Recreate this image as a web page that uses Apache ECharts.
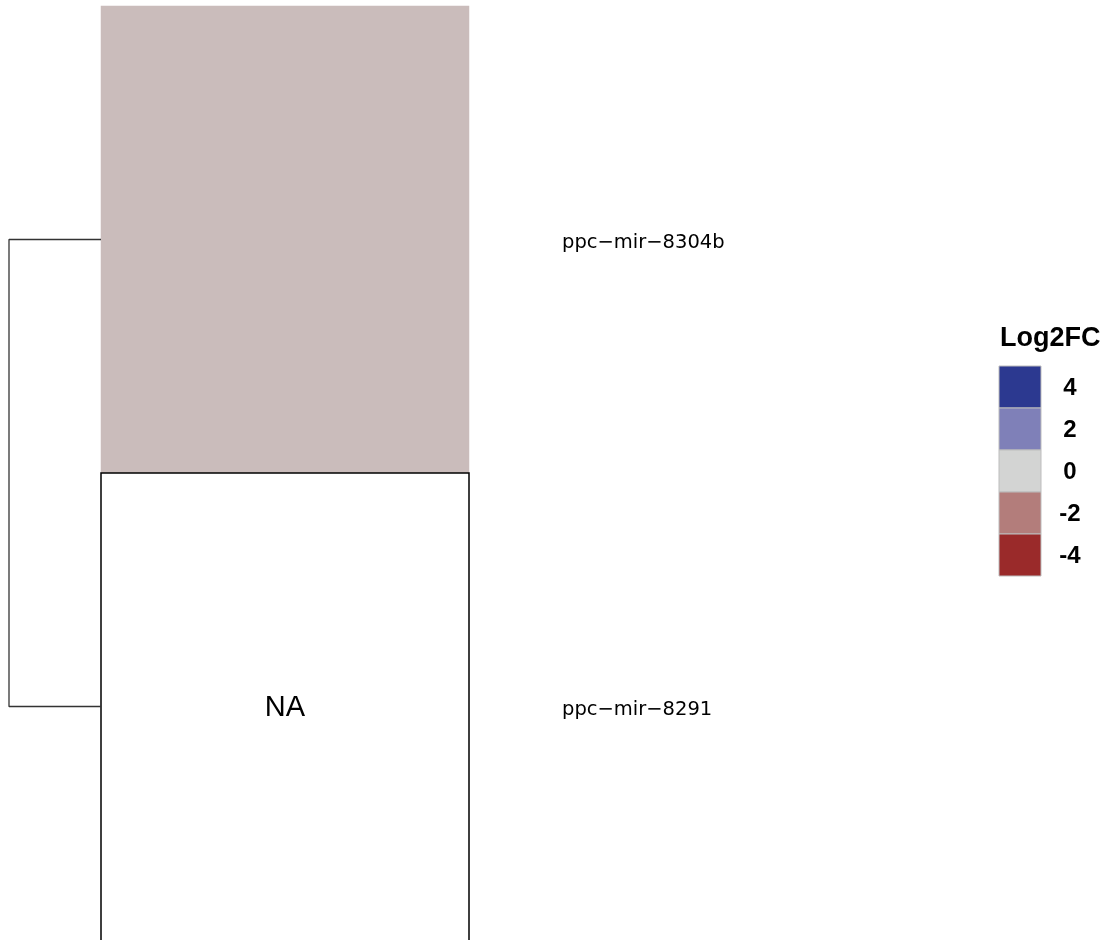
<!DOCTYPE html>
<html>
<head>
<meta charset="utf-8">
<script src="https://cdn.jsdelivr.net/npm/echarts@6/dist/echarts.min.js"></script>
<style>
html,body{margin:0;padding:0;background:#fff;}
#chart{width:1119px;height:940px;}
</style>
</head>
<body>
<div id="chart"></div>
<script>
// ---- data ----
const rowNames = ['ppc\u2212mir\u22128304b', 'ppc\u2212mir\u22128291'];
const colNames = ['Log2FC'];
const log2fc = [-0.55, null];           // null = NA
const dendroMergeHeight = 1;            // height of the single merge
const legendTitle = 'Log2FC';
const legendBreaks = [4, 2, 0, -2, -4];
const legendColors = ['#2C3990', '#7F80B8', '#D3D4D3', '#B37D7B', '#9A2A2A'];

// ---- build ----
const valueData = [];
const naData = [];
rowNames.forEach((r, i) => {
  if (log2fc[i] === null) naData.push([0, i]);
  else valueData.push([0, i, log2fc[i]]);
});

const dendroLine = [
  [0, rowNames[0]],
  [dendroMergeHeight, rowNames[0]],
  [dendroMergeHeight, rowNames[1]],
  [0, rowNames[1]]
];

const boxX = 999, boxW = 42, boxH = 42, boxTop = 366;
const legendGraphics = [{
  type: 'text', left: 1000, top: 325,
  style: { text: legendTitle, font: 'bold 27px "Liberation Sans", Arial, sans-serif', fill: '#000' }
}];
legendBreaks.forEach((b, i) => {
  legendGraphics.push({
    type: 'rect',
    shape: { x: boxX, y: boxTop + i * boxH, width: boxW, height: boxH },
    style: { fill: legendColors[i], stroke: '#BDBDBD', lineWidth: 1 }
  });
  legendGraphics.push({
    type: 'text', x: 1070, y: boxTop + i * boxH + boxH / 2 + 1,
    style: { text: String(b), font: 'bold 24px "Liberation Sans", Arial, sans-serif', fill: '#000',
             align: 'center', verticalAlign: 'middle' }
  });
});

const chart = echarts.init(document.getElementById('chart'), null, { renderer: 'canvas' });
chart.setOption({
  animation: false,
  backgroundColor: '#fff',
  grid: [
    { left: 101, top: 6, width: 368, height: 934 },
    { left: 9, top: 6, width: 92, height: 934 }
  ],
  xAxis: [
    { type: 'category', gridIndex: 0, data: colNames, show: false },
    { type: 'value', gridIndex: 1, min: 0, max: dendroMergeHeight, inverse: true, show: false }
  ],
  yAxis: [
    { type: 'category', gridIndex: 0, data: rowNames, inverse: true, position: 'right',
      axisLine: { show: false }, axisTick: { show: false }, splitLine: { show: false },
      axisLabel: { margin: 93, color: '#000',
                   formatter: function (v) { return '{a|' + v + '}'; },
                   rich: { a: { fontFamily: '"DejaVu Sans", sans-serif', fontSize: 19.5, color: '#000',
                                padding: [6, 0, 0, 0] } } } },
    { type: 'category', gridIndex: 1, data: rowNames, inverse: true, show: false }
  ],
  visualMap: {
    show: false, type: 'continuous', seriesIndex: 0, dimension: 2,
    min: -4, max: 4,
    inRange: { color: legendColors.slice().reverse() }
  },
  series: [
    {
      type: 'heatmap', xAxisIndex: 0, yAxisIndex: 0, data: valueData,
      itemStyle: { borderWidth: 0 }
    },
    {
      type: 'custom', xAxisIndex: 0, yAxisIndex: 0, data: naData,
      renderItem: function (params, api) {
        const c = api.coord([api.value(0), api.value(1)]);
        const s = api.size([1, 1]);
        return {
          type: 'group',
          children: [
            { type: 'rect', shape: { x: c[0] - s[0] / 2, y: c[1] - s[1] / 2, width: s[0], height: s[1] + 4 },
              style: { fill: '#fff', stroke: '#000', lineWidth: 1.5 } },
            { type: 'text', x: c[0], y: c[1] + 1,
              style: { text: 'NA', font: '29px "Liberation Sans", Arial, sans-serif', fill: '#000',
                       align: 'center', verticalAlign: 'middle' } }
          ]
        };
      }
    },
    {
      type: 'line', xAxisIndex: 1, yAxisIndex: 1, data: dendroLine,
      symbol: 'none', lineStyle: { color: '#333', width: 1.3 }
    }
  ],
  graphic: legendGraphics
});
</script>
</body>
</html>
